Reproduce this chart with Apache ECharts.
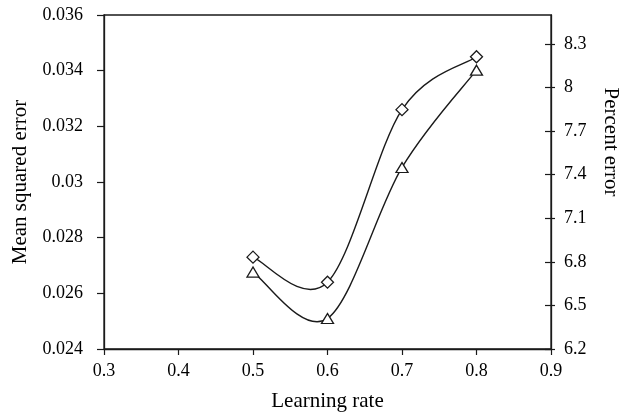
<!DOCTYPE html>
<html>
<head>
<meta charset="utf-8">
<script src="https://cdn.jsdelivr.net/npm/echarts@6/dist/echarts.min.js"></script>
<style>html,body{margin:0;padding:0;background:#fff}#c{width:623px;height:419px}</style>
</head>
<body>
<div id="c"></div>
<script>
var learningRates = [0.5, 0.6, 0.7, 0.8];
var meanSquaredError = [0.0273, 0.0264, 0.0326, 0.0345];
var percentError = [6.73, 6.41, 7.45, 8.12];
var xTicks = [0.3, 0.4, 0.5, 0.6, 0.7, 0.8, 0.9];
var leftTicks = [0.024, 0.026, 0.028, 0.03, 0.032, 0.034, 0.036];
var rightTicks = [6.2, 6.5, 6.8, 7.1, 7.4, 7.7, 8, 8.3];

var FONT = "'Liberation Serif', 'Times New Roman', serif";
var INK = '#1a1a1a';
function pairs(xs, ys) { return xs.map(function (x, i) { return [x, ys[i]]; }); }

// smooth curve (Catmull-Rom style, like spreadsheet "smoothed line") through data points,
// positioned with the chart's own axes via api.coord
function smoothRenderer(xs, ys) {
  return function (params, api) {
    if (params.dataIndex !== 0) return null;
    var p = xs.map(function (x, i) { return api.coord([x, ys[i]]); });
    var n = p.length, children = [];
    for (var i = 0; i < n - 1; i++) {
      var p0 = p[Math.max(i - 1, 0)], p1 = p[i], p2 = p[i + 1], p3 = p[Math.min(i + 2, n - 1)];
      children.push({
        type: 'bezierCurve',
        shape: {
          x1: p1[0], y1: p1[1], x2: p2[0], y2: p2[1],
          cpx1: p1[0] + (p2[0] - p0[0]) / 6, cpy1: p1[1] + (p2[1] - p0[1]) / 6,
          cpx2: p2[0] - (p3[0] - p1[0]) / 6, cpy2: p2[1] - (p3[1] - p1[1]) / 6
        },
        style: {stroke: INK, lineWidth: 1.4, fill: null}
      });
    }
    return {type: 'group', children: children};
  };
}

var chart = echarts.init(document.getElementById('c'), null, {renderer: 'canvas'});
chart.setOption({
  animation: false,
  backgroundColor: '#fff',
  grid: {left: 104, right: 72, top: 15, bottom: 70, show: true, borderColor: INK, borderWidth: 1.3},
  xAxis: {
    type: 'value', min: 0.3, max: 0.9, interval: 0.1,
    name: 'Learning rate', nameLocation: 'middle', nameGap: 42,
    nameTextStyle: {fontFamily: FONT, fontSize: 21, color: '#000'},
    axisLine: {show: true, lineStyle: {color: INK, width: 1.3}},
    axisTick: {show: true, inside: false, length: 6, lineStyle: {color: INK, width: 1.2}},
    axisLabel: {fontFamily: FONT, fontSize: 18, color: '#000', margin: 13,
      customValues: xTicks, formatter: function (v) { return String(+v.toFixed(1)); }},
    splitLine: {show: false}
  },
  yAxis: [{
    type: 'value', position: 'left', min: 0.024, max: 0.036, interval: 0.002,
    name: 'Mean squared error', nameLocation: 'middle', nameGap: 73,
    nameTextStyle: {fontFamily: FONT, fontSize: 21, color: '#000'},
    axisLine: {show: true, lineStyle: {color: INK, width: 1.3}},
    axisTick: {show: true, inside: false, length: 7, lineStyle: {color: INK, width: 1.2}},
    axisLabel: {fontFamily: FONT, fontSize: 18, color: '#000', margin: 21,
      customValues: leftTicks, formatter: function (v) { return String(+v.toFixed(3)); }},
    splitLine: {show: false}
  }, {
    type: 'value', position: 'right', min: 6.2, max: 8.5,
    axisLine: {show: true, lineStyle: {color: INK, width: 1.3}},
    axisTick: {show: true, inside: false, length: 4, customValues: rightTicks, lineStyle: {color: INK, width: 1.2}},
    axisLabel: {fontFamily: FONT, fontSize: 18, color: '#000', margin: 13,
      customValues: rightTicks, formatter: function (v) { return String(+v.toFixed(1)); }},
    splitLine: {show: false}
  }, {
    type: 'value', position: 'right', min: 6.2, max: 8.5,
    axisLine: {show: false},
    axisTick: {show: true, inside: true, length: 6, customValues: rightTicks, lineStyle: {color: INK, width: 1.2}},
    axisLabel: {show: false},
    splitLine: {show: false}
  }],
  graphic: [{
    type: 'text', x: 611, y: 142, rotation: -Math.PI / 2,
    style: {text: 'Percent error', font: '21px ' + FONT, fill: '#000', align: 'center', verticalAlign: 'middle'}
  }],
  series: [{
    name: 'MSE curve', type: 'custom', yAxisIndex: 0,
    data: pairs(learningRates, meanSquaredError),
    renderItem: smoothRenderer(learningRates, meanSquaredError), z: 2, silent: true
  }, {
    name: 'Percent curve', type: 'custom', yAxisIndex: 1,
    data: pairs(learningRates, percentError),
    renderItem: smoothRenderer(learningRates, percentError), z: 2, silent: true
  }, {
    name: 'Mean squared error', type: 'line', yAxisIndex: 0,
    data: pairs(learningRates, meanSquaredError),
    symbol: 'diamond', symbolSize: [12, 12], showAllSymbol: true,
    lineStyle: {width: 0, opacity: 0},
    itemStyle: {color: '#fff', borderColor: INK, borderWidth: 1.3},
    z: 3
  }, {
    name: 'Percent error', type: 'line', yAxisIndex: 1,
    data: pairs(learningRates, percentError),
    symbol: 'triangle', symbolSize: [12, 10], showAllSymbol: true,
    lineStyle: {width: 0, opacity: 0},
    itemStyle: {color: '#fff', borderColor: INK, borderWidth: 1.3},
    z: 3
  }]
});
</script>
</body>
</html>
